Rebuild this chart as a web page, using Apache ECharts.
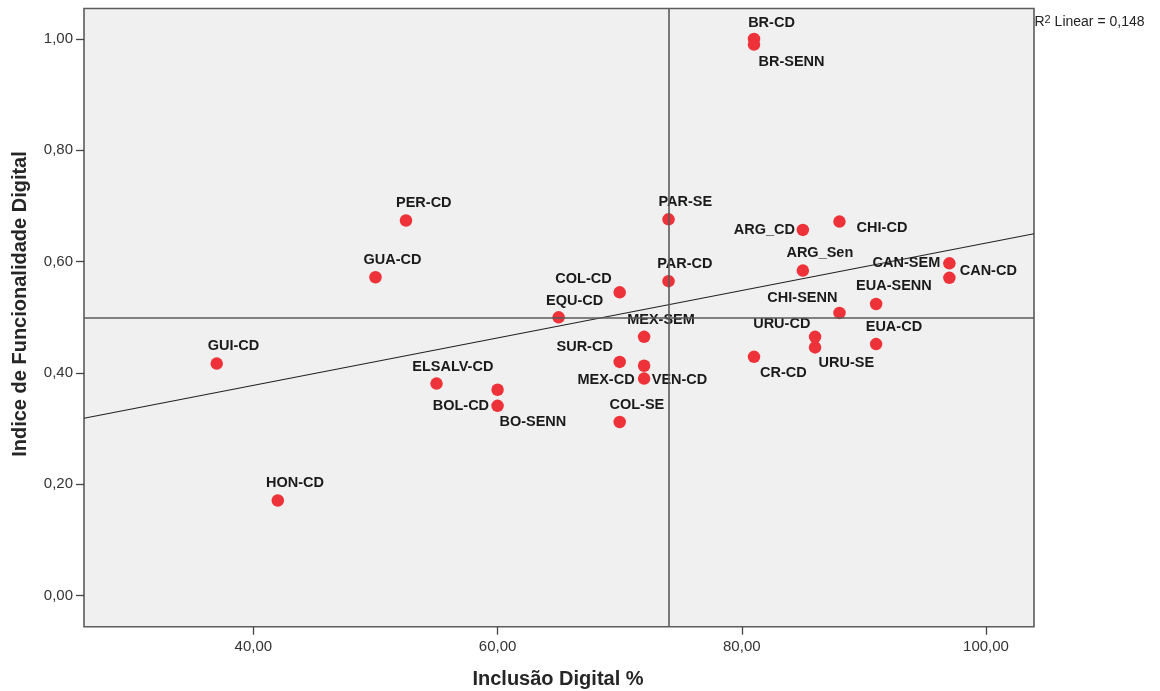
<!DOCTYPE html>
<html>
<head>
<meta charset="utf-8">
<script src="https://cdn.jsdelivr.net/npm/echarts@6/dist/echarts.min.js"></script>
<style>
  html, body { margin: 0; padding: 0; background: #ffffff; }
  #chart { width: 1160px; height: 691px; }
</style>
</head>
<body>
<div id="chart"></div>
<script>
// Country / survey codes
const names = [
  'BR-CD', 'BR-SENN', 'PER-CD', 'GUA-CD', 'GUI-CD', 'HON-CD', 'PAR-SE', 'PAR-CD',
  'COL-CD', 'EQU-CD', 'ARG_CD', 'CHI-CD', 'ARG_Sen', 'CAN-SEM', 'CAN-CD', 'EUA-SENN',
  'CHI-SENN', 'URU-CD', 'URU-SE', 'EUA-CD', 'CR-CD', 'MEX-SEM', 'SUR-CD', 'MEX-CD',
  'VEN-CD', 'ELSALV-CD', 'BOL-CD', 'BO-SENN', 'COL-SE'
];
// Inclusão Digital (%)
const inclusao = [
  81, 81, 52.5, 50, 37, 42, 74, 74,
  70, 65, 85, 88, 85, 97, 97, 91,
  88, 86, 86, 91, 81, 72, 70, 72,
  72, 55, 60, 60, 70
];
// Índice de Funcionalidade Digital
const funcionalidade = [
  1.00, 0.99, 0.674, 0.572, 0.417, 0.171, 0.676, 0.565,
  0.545, 0.50, 0.657, 0.672, 0.584, 0.597, 0.571, 0.524,
  0.508, 0.465, 0.446, 0.452, 0.429, 0.465, 0.42, 0.413,
  0.39, 0.381, 0.37, 0.341, 0.312
];
// Axis ticks
const xTicks = [40, 60, 80, 100];
const yTicks = [0, 0.2, 0.4, 0.6, 0.8, 1.0];
// Reference lines (means) and linear fit
const xReference = 74;
const yReference = 0.50;
const fitIntercept = 0.2074;
const fitSlope = 0.00426;
const rSquared = '0,148';

// Label placement around each marker (centre offset in px)
const labelOffsets = {
  'BR-CD': [17.5, -16], 'BR-SENN': [37.5, 17], 'PER-CD': [17.8, -17.9],
  'GUA-CD': [17, -17], 'GUI-CD': [16.8, -17.5], 'HON-CD': [17.2, -17],
  'PAR-SE': [16.8, -17.3], 'PAR-CD': [16.3, -17.5], 'COL-CD': [-36.2, -13.6],
  'EQU-CD': [16, -16], 'ARG_CD': [-38.5, 0.5], 'CHI-CD': [42.5, 6],
  'ARG_Sen': [17, -17.4], 'CAN-SEM': [-43, -0.6], 'CAN-CD': [38.9, -7.2],
  'EUA-SENN': [17.8, -17.5], 'CHI-SENN': [-37.1, -14.4], 'URU-CD': [-33.3, -13.2],
  'URU-SE': [31.3, 15.2], 'EUA-CD': [17.8, -16.8], 'CR-CD': [29.3, 15.8],
  'MEX-SEM': [16.9, -17.2], 'SUR-CD': [-35, -14.5], 'MEX-CD': [-38.1, 14.3],
  'VEN-CD': [35.4, 1.7], 'ELSALV-CD': [16.3, -16.5], 'BOL-CD': [-36.7, 15.8],
  'BO-SENN': [35.3, 15.8], 'COL-SE': [17.2, -16.7]
};

const FONT = '"Liberation Sans", Arial, Helvetica, sans-serif';
const xMin = 26.13, xMax = 103.93;
const yMin = -0.0557, yMax = 1.0548;

const fmt = v => v.toFixed(2).replace('.', ',');

const points = names.map((n, i) => ({
  name: n,
  value: [inclusao[i], funcionalidade[i]],
  label: { offset: labelOffsets[n] || [17, -17] }
}));

const fitLine = [xMin, xMax].map(x => [x, fitIntercept + fitSlope * x]);

const chart = echarts.init(document.getElementById('chart'), null, { renderer: 'canvas' });

chart.setOption({
  animation: false,
  backgroundColor: '#ffffff',
  grid: {
    left: 84, top: 8.5, right: 126, bottom: 64.3,
    show: true, backgroundColor: '#f0f0f0', borderColor: '#5c5c5c', borderWidth: 1.6
  },
  xAxis: {
    type: 'value', min: xMin, max: xMax,
    axisLine: { show: false, onZero: false },
    splitLine: { show: false },
    axisTick: { show: true, length: 8, customValues: xTicks, lineStyle: { color: '#444', width: 1.3 } },
    axisLabel: { customValues: xTicks, formatter: fmt, margin: 13, fontFamily: FONT, fontSize: 15, color: '#333' }
  },
  yAxis: {
    type: 'value', min: yMin, max: yMax,
    axisLine: { show: false, onZero: false },
    splitLine: { show: false },
    axisTick: { show: true, length: 8, customValues: yTicks, lineStyle: { color: '#444', width: 1.3 } },
    axisLabel: { customValues: yTicks, formatter: fmt, margin: 11, fontFamily: FONT, fontSize: 15, color: '#333' }
  },
  series: [
    {
      type: 'line',
      data: fitLine,
      symbol: 'none',
      silent: true,
      z: 3,
      lineStyle: { color: '#222', width: 1.1 },
      markLine: {
        silent: true,
        symbol: 'none',
        label: { show: false },
        lineStyle: { color: '#5a5a5a', width: 1.6, type: 'solid' },
        data: [{ xAxis: xReference }, { yAxis: yReference }]
      }
    },
    {
      type: 'scatter',
      data: points,
      symbol: 'circle',
      symbolSize: 12.5,
      z: 4,
      itemStyle: { color: '#ee3239', opacity: 1 },
      label: {
        show: true,
        position: 'inside',
        formatter: p => p.name,
        fontFamily: FONT,
        fontSize: 14.5,
        fontWeight: 'bold',
        color: '#1a1a1a',
        align: 'center',
        verticalAlign: 'middle'
      }
    }
  ],
  graphic: [
    {
      type: 'text', x: 558, y: 679,
      style: { text: 'Inclusão Digital %', font: 'bold 20px ' + FONT, fill: '#262626', align: 'center', verticalAlign: 'middle' }
    },
    {
      type: 'text', x: 20.5, y: 304, rotation: Math.PI / 2,
      style: { text: 'Indice de Funcionalidade Digital', font: 'bold 20px ' + FONT, fill: '#262626', align: 'center', verticalAlign: 'middle' }
    },
    {
      type: 'text', x: 1034.5, y: 14,
      style: {
        text: 'R{sup|2} Linear = ' + rSquared,
        fontFamily: FONT, fontSize: 14, fill: '#222', lineHeight: 16,
        rich: { sup: { fontSize: 11, verticalAlign: 'top', lineHeight: 11, fill: '#222' } }
      }
    }
  ]
});
</script>
</body>
</html>
